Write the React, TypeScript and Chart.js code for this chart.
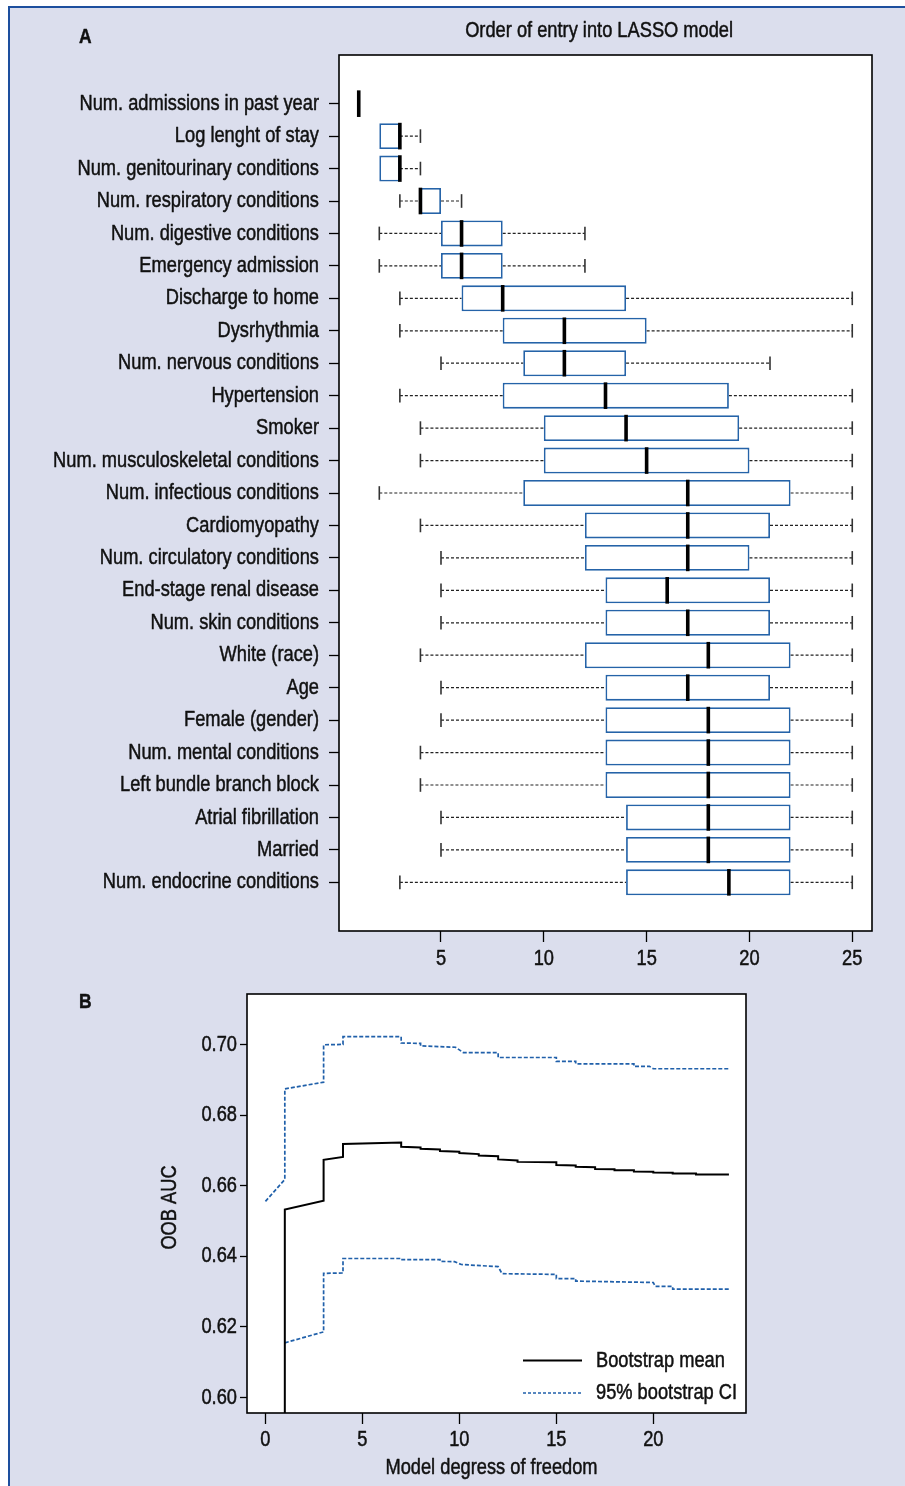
import React, { useEffect, useRef } from "react";
import { Chart, registerables } from "chart.js";

Chart.register(...registerables);

// ---------- Panel A data ----------
const CATEGORIES = [
  "Num. admissions in past year",
  "Log lenght of stay",
  "Num. genitourinary conditions",
  "Num. respiratory conditions",
  "Num. digestive conditions",
  "Emergency admission",
  "Discharge to home",
  "Dysrhythmia",
  "Num. nervous conditions",
  "Hypertension",
  "Smoker",
  "Num. musculoskeletal conditions",
  "Num. infectious conditions",
  "Cardiomyopathy",
  "Num. circulatory conditions",
  "End-stage renal disease",
  "Num. skin conditions",
  "White (race)",
  "Age",
  "Female (gender)",
  "Num. mental conditions",
  "Left bundle branch block",
  "Atrial fibrillation",
  "Married",
  "Num. endocrine conditions",
];
const WHISKER_LOW = [1, 2, 2, 3, 2, 2, 3, 3, 5, 3, 4, 4, 2, 4, 5, 5, 5, 4, 5, 5, 4, 4, 5, 5, 3];
const Q1 = [1, 2, 2, 4, 5, 5, 6, 8, 9, 8, 10, 10, 9, 12, 12, 13, 13, 12, 13, 13, 13, 13, 14, 14, 14];
const MEDIAN = [1, 3, 3, 4, 6, 6, 8, 11, 11, 13, 14, 15, 17, 17, 17, 16, 17, 18, 17, 18, 18, 18, 18, 18, 19];
const Q3 = [1, 3, 3, 5, 8, 8, 14, 15, 14, 19, 19.5, 20, 22, 21, 20, 21, 21, 22, 21, 22, 22, 22, 22, 22, 22];
const WHISKER_HIGH = [1, 4, 4, 6, 12, 12, 25, 25, 21, 25, 25, 25, 25, 25, 25, 25, 25, 25, 25, 25, 25, 25, 25, 25, 25];
const X_TICKS_A = [5, 10, 15, 20, 25];

// ---------- Panel B data ----------
const MEAN_X = [1, 1, 3, 3, 4, 4, 7, 7, 8, 8, 9, 9, 10, 10, 11, 11, 12, 12, 13, 13, 15, 15, 16, 16, 17, 17, 18, 18, 19, 19, 20, 20, 21, 21, 22.2, 22.2, 23.9];
const MEAN_Y = [0.5, 0.6533, 0.6558, 0.6674, 0.6682, 0.6719, 0.6723, 0.6711, 0.6709, 0.6705, 0.6703, 0.6699, 0.6697, 0.6693, 0.669, 0.6686, 0.6684, 0.6675, 0.6672, 0.6668, 0.6667, 0.6659, 0.6658, 0.6654, 0.6653, 0.6648, 0.6647, 0.6644, 0.6644, 0.6641, 0.664, 0.6638, 0.6637, 0.6635, 0.6635, 0.6632, 0.6632];
const UPPER_X = [0, 1, 1, 3, 3, 4, 4, 7, 7, 8, 8, 9.8, 10.2, 12, 12, 15, 15, 16, 16, 19, 19, 19.8, 20, 23.9];
const UPPER_Y = [0.6556, 0.6618, 0.6875, 0.6894, 0.7, 0.7001, 0.7023, 0.7023, 0.7005, 0.7004, 0.6997, 0.6993, 0.6978, 0.6978, 0.6964, 0.6964, 0.6953, 0.6953, 0.6946, 0.6946, 0.6939, 0.6939, 0.6932, 0.6932];
const LOWER_X = [1, 3, 3, 4, 4, 7, 7, 9, 9, 9.75, 10.1, 12, 12.2, 15, 15, 16, 16, 20, 20.1, 21, 21, 23.9];
const LOWER_Y = [0.6155, 0.6186, 0.6352, 0.6353, 0.6394, 0.6394, 0.6391, 0.6391, 0.6386, 0.6385, 0.6377, 0.6371, 0.6351, 0.6349, 0.6337, 0.6337, 0.633, 0.6326, 0.6315, 0.6315, 0.6307, 0.6307];
const X_TICKS_B = [0, 5, 10, 15, 20];
const Y_TICKS_B = [0.6, 0.62, 0.64, 0.66, 0.68, 0.7];

// ---------- styles ----------
const FONT = "'Liberation Sans', Arial, sans-serif";
const SX = 0.83; // horizontal condensation of the sans font
const TXT = "#111111";
const LAVENDER = "#dbdeed";
const FRAME_BLUE = "#1d4f9e";
const BOX_BLUE = "#2563a8";
const CI_BLUE = "#2060aa";

const pts = (xs: number[], ys: number[]) => xs.map((x, i) => ({ x, y: ys[i] }));

function condText(
  ctx: CanvasRenderingContext2D,
  text: string,
  x: number,
  y: number,
  align: CanvasTextAlign,
  size = 22,
  weight = "normal",
  rotate = 0
) {
  ctx.save();
  ctx.translate(x, y);
  if (rotate) ctx.rotate(rotate);
  ctx.scale(SX, 1);
  ctx.font = `${weight} ${size}px ${FONT}`;
  ctx.textAlign = align;
  ctx.textBaseline = "middle";
  ctx.fillStyle = TXT;
  ctx.strokeStyle = TXT;
  ctx.lineWidth = 0.5;
  ctx.lineJoin = "round";
  ctx.fillText(text, 0, 0);
  ctx.strokeText(text, 0, 0);
  ctx.restore();
}

const boxPlugin = {
  id: "boxExtras",
  beforeDatasetsDraw(chart: any) {
    const { ctx, chartArea: ca, scales } = chart;
    const x = scales.x;
    const y = scales.y;
    ctx.save();
    ctx.fillStyle = "#ffffff";
    ctx.fillRect(ca.left, ca.top, ca.right - ca.left, ca.bottom - ca.top);
    const stapleHalf = Math.abs(y.getPixelForValue(1.21) - y.getPixelForValue(1));
    CATEGORIES.forEach((_, i) => {
      const py = y.getPixelForValue(i + 1);
      ctx.strokeStyle = "#222";
      ctx.lineWidth = 1.2;
      ctx.setLineDash([3, 2]);
      if (WHISKER_LOW[i] < Q1[i]) {
        ctx.beginPath();
        ctx.moveTo(x.getPixelForValue(WHISKER_LOW[i]), py);
        ctx.lineTo(x.getPixelForValue(Q1[i]), py);
        ctx.stroke();
      }
      if (WHISKER_HIGH[i] > Q3[i]) {
        ctx.beginPath();
        ctx.moveTo(x.getPixelForValue(Q3[i]), py);
        ctx.lineTo(x.getPixelForValue(WHISKER_HIGH[i]), py);
        ctx.stroke();
      }
      ctx.setLineDash([]);
      ctx.lineWidth = 1.6;
      ctx.strokeStyle = "#333";
      const caps: number[] = [];
      if (WHISKER_LOW[i] < Q1[i]) caps.push(WHISKER_LOW[i]);
      if (WHISKER_HIGH[i] > Q3[i]) caps.push(WHISKER_HIGH[i]);
      caps.forEach((v) => {
        const px = x.getPixelForValue(v);
        ctx.beginPath();
        ctx.moveTo(px, py - stapleHalf);
        ctx.lineTo(px, py + stapleHalf);
        ctx.stroke();
      });
    });
    ctx.restore();
  },
  afterDatasetsDraw(chart: any) {
    const { ctx, scales } = chart;
    const x = scales.x;
    const y = scales.y;
    const half = Math.abs(y.getPixelForValue(1.41) - y.getPixelForValue(1));
    ctx.save();
    ctx.strokeStyle = "#000";
    ctx.lineWidth = 3.6;
    CATEGORIES.forEach((_, i) => {
      const py = y.getPixelForValue(i + 1);
      const px = x.getPixelForValue(MEDIAN[i]);
      ctx.beginPath();
      ctx.moveTo(px, py - half);
      ctx.lineTo(px, py + half);
      ctx.stroke();
    });
    ctx.restore();
  },
  afterDraw(chart: any) {
    const { ctx, chartArea: ca, scales } = chart;
    const x = scales.x;
    const y = scales.y;
    ctx.save();
    ctx.strokeStyle = "#000";
    ctx.lineWidth = 1.6;
    ctx.strokeRect(ca.left, ca.top, ca.right - ca.left, ca.bottom - ca.top);
    ctx.restore();
    // tick labels placed from the library's scales
    y.ticks.forEach((t: any, i: number) => {
      condText(ctx, CATEGORIES[Math.round(t.value) - 1], ca.left - 20, y.getPixelForTick(i), "right");
    });
    x.ticks.forEach((t: any, i: number) => {
      condText(ctx, String(t.value), x.getPixelForTick(i), ca.bottom + 27.5, "center");
    });
    condText(ctx, "Order of entry into LASSO model", ca.left + 0.488 * (ca.right - ca.left), ca.top - 24, "center");
    condText(ctx, "A", 79, 37, "left", 21, "bold");
  },
};

const lineFramePlugin = {
  id: "lineFrame",
  beforeDatasetsDraw(chart: any) {
    const { ctx, chartArea: ca } = chart;
    ctx.save();
    ctx.fillStyle = "#ffffff";
    ctx.fillRect(ca.left, ca.top, ca.right - ca.left, ca.bottom - ca.top);
    ctx.restore();
  },
  afterDraw(chart: any) {
    const { ctx, chartArea: ca, scales } = chart;
    const x = scales.x;
    const y = scales.y;
    ctx.save();
    ctx.strokeStyle = "#000";
    ctx.lineWidth = 1.6;
    ctx.strokeRect(ca.left, ca.top, ca.right - ca.left, ca.bottom - ca.top);
    // legend
    const x0 = ca.right - 223;
    const x1 = ca.right - 164;
    const tx = ca.right - 150;
    const y1 = ca.bottom - 52.5;
    const y2 = ca.bottom - 20;
    ctx.lineWidth = 2;
    ctx.strokeStyle = "#000";
    ctx.beginPath();
    ctx.moveTo(x0, y1);
    ctx.lineTo(x1, y1);
    ctx.stroke();
    ctx.lineWidth = 1.6;
    ctx.strokeStyle = CI_BLUE;
    ctx.setLineDash([3, 2]);
    ctx.beginPath();
    ctx.moveTo(x0, y2);
    ctx.lineTo(x1, y2);
    ctx.stroke();
    ctx.setLineDash([]);
    ctx.restore();
    condText(ctx, "Bootstrap mean", tx, y1, "left");
    condText(ctx, "95% bootstrap CI", tx, y2, "left");
    // tick labels placed from the library's scales
    y.ticks.forEach((t: any, i: number) => {
      condText(ctx, Number(t.value).toFixed(2), ca.left - 10, y.getPixelForTick(i), "right");
    });
    x.ticks.forEach((t: any, i: number) => {
      condText(ctx, String(t.value), x.getPixelForTick(i), ca.bottom + 27, "center");
    });
    condText(ctx, "Model degress of freedom", ca.left + 0.49 * (ca.right - ca.left), ca.bottom + 55, "center");
    condText(ctx, "OOB AUC", 170, (ca.top + ca.bottom) / 2 + 4, "center", 22, "normal", -Math.PI / 2);
    condText(ctx, "B", 79, 12, "left", 21, "bold");
  },
};

const gridTicks = (len: number) => ({
  display: true,
  drawOnChartArea: false,
  drawTicks: true,
  offset: false,
  tickLength: len,
  tickColor: "#000",
  tickWidth: 1.3,
});

export default function App() {
  const refA = useRef<HTMLCanvasElement>(null);
  const refB = useRef<HTMLCanvasElement>(null);

  useEffect(() => {
    const boxData = CATEGORIES.map((_, i) => ({ x: [Q1[i], Q3[i]], y: i + 1 }));
    const chartA = new Chart(refA.current as HTMLCanvasElement, {
      type: "bar",
      data: {
        datasets: [
          {
            data: boxData as any,
            backgroundColor: "#ffffff",
            borderColor: BOX_BLUE,
            borderWidth: 1.8,
            borderSkipped: false,
            categoryPercentage: 1,
            barPercentage: 0.8,
          } as any,
        ],
      },
      options: {
        indexAxis: "y",
        responsive: false,
        animation: false,
        layout: { padding: { top: 55, right: 33, left: 0, bottom: 0 } },
        plugins: { legend: { display: false }, tooltip: { enabled: false } },
        scales: {
          x: {
            type: "linear",
            min: 0.04,
            max: 25.96,
            offset: false,
            afterBuildTicks: (s: any) => {
              s.ticks = X_TICKS_A.map((v) => ({ value: v }));
            },
            afterFit: (s: any) => {
              s.height = 59;
            },
            grid: gridTicks(11) as any,
            border: { display: false },
            ticks: { display: false, autoSkip: false },
          },
          y: {
            type: "linear",
            reverse: true,
            min: -0.5,
            max: 26.5,
            offset: false,
            afterBuildTicks: (s: any) => {
              s.ticks = CATEGORIES.map((_, i) => ({ value: i + 1 }));
            },
            afterFit: (s: any) => {
              s.width = 339;
            },
            grid: gridTicks(10) as any,
            border: { display: false },
            ticks: { display: false, autoSkip: false },
          },
        },
      } as any,
      plugins: [boxPlugin],
    });

    const chartB = new Chart(refB.current as HTMLCanvasElement, {
      type: "line",
      data: {
        datasets: [
          {
            label: "Bootstrap mean",
            data: pts(MEAN_X, MEAN_Y),
            borderColor: "#000",
            borderWidth: 2,
            pointRadius: 0,
            tension: 0,
          },
          {
            label: "95% bootstrap CI upper",
            data: pts(UPPER_X, UPPER_Y),
            borderColor: CI_BLUE,
            borderWidth: 1.7,
            borderDash: [4, 2],
            pointRadius: 0,
            tension: 0,
          },
          {
            label: "95% bootstrap CI lower",
            data: pts(LOWER_X, LOWER_Y),
            borderColor: CI_BLUE,
            borderWidth: 1.7,
            borderDash: [4, 2],
            pointRadius: 0,
            tension: 0,
          },
        ] as any,
      },
      options: {
        responsive: false,
        animation: false,
        layout: { padding: { top: 4, right: 159, left: 0, bottom: 0 } },
        plugins: { legend: { display: false }, tooltip: { enabled: false } },
        scales: {
          x: {
            type: "linear",
            min: -0.95,
            max: 24.78,
            afterBuildTicks: (s: any) => {
              s.ticks = X_TICKS_B.map((v) => ({ value: v }));
            },
            afterFit: (s: any) => {
              s.height = 73;
            },
            grid: gridTicks(11) as any,
            border: { display: false },
            ticks: { display: false, autoSkip: false },
          },
          y: {
            type: "linear",
            min: 0.5956,
            max: 0.7144,
            afterBuildTicks: (s: any) => {
              s.ticks = Y_TICKS_B.map((v) => ({ value: v }));
            },
            afterFit: (s: any) => {
              s.width = 247;
            },
            grid: gridTicks(7) as any,
            border: { display: false },
            ticks: { display: false, autoSkip: false },
          },
        },
      } as any,
      plugins: [lineFramePlugin],
    });

    return () => {
      chartA.destroy();
      chartB.destroy();
    };
  }, []);

  return (
    <div style={{ position: "absolute", left: 0, top: 0, width: 905, height: 1486, background: "#ffffff", overflow: "hidden" }}>
      <div
        style={{
          position: "absolute",
          left: 8,
          top: 6,
          width: 897,
          height: 1480,
          background: LAVENDER,
          borderLeft: `2px solid ${FRAME_BLUE}`,
          borderTop: `2px solid ${FRAME_BLUE}`,
          boxSizing: "border-box",
        }}
      />
      <canvas ref={refA} width={905} height={990} style={{ position: "absolute", left: 0, top: 0 }} />
      <canvas ref={refB} width={905} height={496} style={{ position: "absolute", left: 0, top: 990 }} />
    </div>
  );
}
